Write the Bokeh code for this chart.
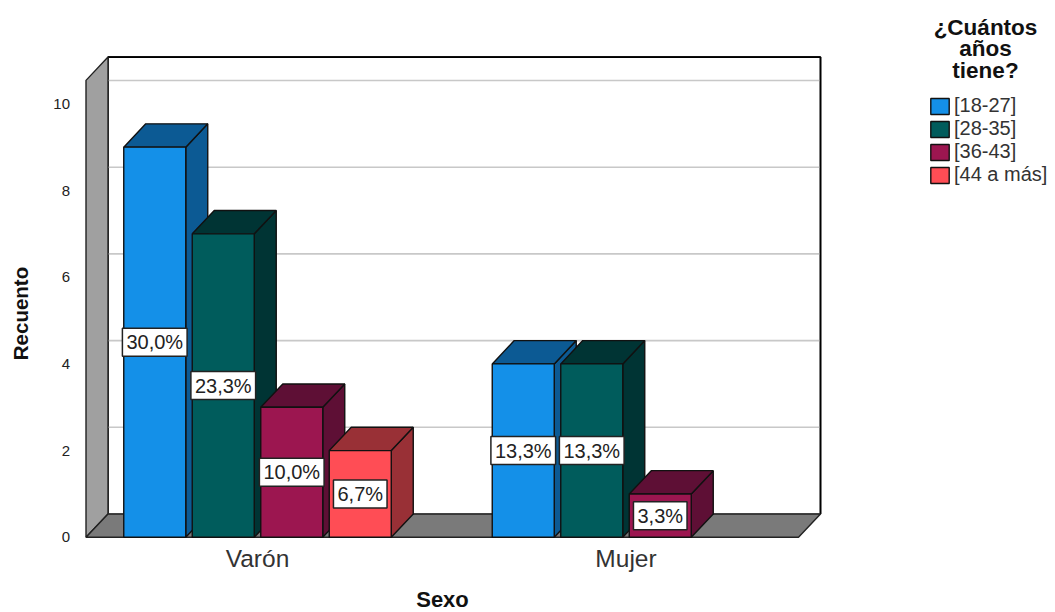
from bokeh.plotting import figure
from bokeh.embed import file_html
from bokeh.resources import INLINE
from bokeh.models import Range1d, FixedTicker, Legend, LegendItem, Label, ColumnDataSource
import math

categories = ["Varón", "Mujer"]
series_names = ["[18-27]", "[28-35]", "[36-43]", "[44 a más]"]
counts_18_27 = [9, 4]
counts_28_35 = [7, 4]
counts_36_43 = [3, 1]
counts_44_mas = [2, 0]
pct_18_27 = ["30,0%", "13,3%"]
pct_28_35 = ["23,3%", "13,3%"]
pct_36_43 = ["10,0%", "3,3%"]
pct_44_mas = ["6,7%", ""]
y_ticks = [0, 2, 4, 6, 8, 10]
front_colors = ["#1490E8", "#005C5C", "#9C1650", "#FF4D55"]
side_colors = ["#0C5A94", "#003434", "#5E0F35", "#993036"]
legend_title = "¿Cuántos\naños\ntiene?"

all_counts = [counts_18_27, counts_28_35, counts_36_43, counts_44_mas]
all_pcts = [pct_18_27, pct_28_35, pct_36_43, pct_44_mas]

FONT = "Liberation Sans"
W, H = 1055, 612
PX_PER_CAT, PX_PER_UNIT = 368.5, 43.35
CENTER0 = 257.0


def xd(px):
    return (px - CENTER0) / PX_PER_CAT


def yd(px):
    return (536.8 - px) / PX_PER_UNIT


p = figure(
    width=W, height=H, output_backend="svg", toolbar_location=None,
    x_range=Range1d(xd(0), xd(W)), y_range=Range1d(yd(H), yd(0)),
    min_border_left=0, min_border_right=0, min_border_top=0, min_border_bottom=0,
    background_fill_color="white", border_fill_color="white", outline_line_color=None,
)
p.grid.visible = False

DX, DY = 22 / PX_PER_CAT, 23.3 / PX_PER_UNIT
SLOT, BAR_W = 68.5 / PX_PER_CAT, 62 / PX_PER_CAT
EDGE = "#111111"
x0, x1 = xd(85.5), xd(798)
ytop = 10.54

# Walls and floor
p.patch([x0 + DX, x1 + DX, x1 + DX, x0 + DX], [DY, DY, ytop + DY, ytop + DY],
        fill_color="white", line_color="black", line_width=1.6)
for t in y_ticks:
    p.line([x0 + DX, x1 + DX], [t + DY, t + DY], line_color="#C8C8C8", line_width=1.6)
p.line([x0 + DX, x1 + DX], [ytop + DY, ytop + DY], line_color="black", line_width=1.6)
p.line([x1 + DX, x1 + DX], [DY, ytop + DY], line_color="black", line_width=1.6)
p.patch([x0, x0 + DX, x0 + DX, x0], [0, DY, ytop + DY, ytop],
        fill_color="#A0A0A0", line_color="#222222", line_width=1.4)
p.patch([x0, x1, x1 + DX, x0 + DX], [0, 0, DY, DY],
        fill_color="#7A7A7A", line_color="#222222", line_width=1.4)

# Bars
legend_items = []
for s, (name, vals) in enumerate(zip(series_names, all_counts)):
    offs = (s - 1.5) * SLOT
    lefts = [i + offs - BAR_W / 2 for i in range(len(categories))]
    rights = [l + BAR_W for l in lefts]
    keep = [i for i, v in enumerate(vals) if v > 0]
    for i in keep:
        l, r, v = lefts[i], rights[i], vals[i]
        p.patch([r, r + DX, r + DX, r], [0, DY, v + DY, v],
                fill_color=side_colors[s], line_color=EDGE, line_width=1.4)
        p.patch([l, r, r + DX, l + DX], [v, v, v + DY, v + DY],
                fill_color=side_colors[s], line_color=EDGE, line_width=1.4)
    src = ColumnDataSource(dict(
        left=[lefts[i] for i in keep], right=[rights[i] for i in keep],
        top=[vals[i] for i in keep], bottom=[0] * len(keep)))
    q = p.quad(left="left", right="right", top="top", bottom="bottom", source=src,
               fill_color=front_colors[s], line_color=EDGE, line_width=1.4)
    legend_items.append(LegendItem(label=name, renderers=[q]))

# Percentage labels
for s, (vals, pcts) in enumerate(zip(all_counts, all_pcts)):
    for i, (v, t) in enumerate(zip(vals, pcts)):
        if not t:
            continue
        lab = Label(x=i + (s - 1.5) * SLOT, y=v / 2, text=t, text_align="center",
                    text_baseline="middle", text_font=FONT, text_font_size="20px",
                    text_color="#222222", background_fill_color="white",
                    border_line_color="#222222", border_line_width=1.5,
                    padding=(4, 3))
        p.add_layout(lab)

# Axes fixed at the front edge of the floor and left wall
ax = p.yaxis[0]
ax.fixed_location = x0
ax.ticker = FixedTicker(ticks=y_ticks)
ax.axis_line_color = None
ax.major_tick_line_color = None
ax.minor_tick_line_color = None
ax.major_label_text_font = FONT
ax.major_label_text_font_size = "15px"
ax.major_label_text_color = "#222222"
ax.major_label_standoff = 10

bx = p.xaxis[0]
bx.fixed_location = 0
bx.ticker = FixedTicker(ticks=list(range(len(categories))))
bx.major_label_overrides = {i: c for i, c in enumerate(categories)}
bx.axis_line_color = None
bx.major_tick_line_color = None
bx.minor_tick_line_color = None
bx.major_label_text_font = FONT
bx.major_label_text_font_size = "24.5px"
bx.major_label_text_color = "#333333"
bx.major_label_standoff = 2

p.add_layout(Label(x=xd(442), y=yd(598.5), text="Sexo", text_align="center", text_baseline="middle",
                   text_font=FONT, text_font_style="bold", text_font_size="22px", text_color="#111111"))
p.add_layout(Label(x=xd(20), y=yd(313), text="Recuento", text_align="center", text_baseline="middle",
                   angle=math.pi / 2, text_font=FONT, text_font_style="bold",
                   text_font_size="20.5px", text_color="#111111"))
p.add_layout(Label(x=xd(985), y=yd(14), text=legend_title, text_align="center", text_baseline="top",
                   text_font=FONT, text_font_style="bold", text_font_size="22.5px", text_color="#111111",
                   text_line_height=0.87))

legend = Legend(items=legend_items, location=(928, H - 186),
                background_fill_alpha=0, border_line_color=None, padding=0, margin=0,
                glyph_width=23, glyph_height=20, label_height=17, spacing=0, label_standoff=3,
                label_text_font=FONT, label_text_font_size="20px", label_text_color="#333333")
p.add_layout(legend)

open("out.html", "w").write(file_html(p, INLINE))
